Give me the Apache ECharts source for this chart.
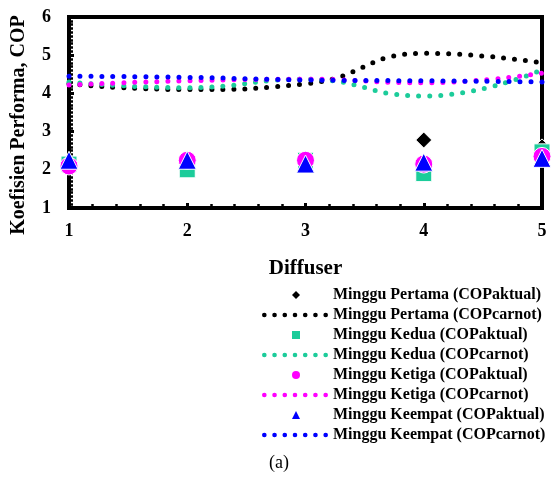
<!DOCTYPE html>
<html><head><meta charset="utf-8">
<script src="https://cdn.jsdelivr.net/npm/echarts@6/dist/echarts.min.js"></script>
<style>html,body{margin:0;padding:0;background:#fff}#c{width:551px;height:479px}</style>
</head><body><div id="c"></div>
<script>
var diffuser = [1, 2, 3, 4, 5];
var pertamaAktual = [2.2, 2.2, 2.2, 2.78, 2.6];
var pertamaCarnot = [4.25, 4.1, 4.25, 5.05, 4.8];
var keduaAktual = [2.15, 2.0, 2.25, 1.9, 2.47];
var keduaCarnot = [4.3, 4.15, 4.37, 3.93, 4.62];
var ketigaAktual = [2.1, 2.25, 2.25, 2.15, 2.35];
var ketigaCarnot = [4.22, 4.33, 4.37, 4.28, 4.53];
var keempatAktual = [2.25, 2.25, 2.15, 2.2, 2.3];
var keempatCarnot = [4.45, 4.42, 4.35, 4.33, 4.3];
var names = ['Minggu Pertama (COPaktual)', 'Minggu Pertama (COPcarnot)', 'Minggu Kedua (COPaktual)', 'Minggu Kedua (COPcarnot)', 'Minggu Ketiga (COPaktual)', 'Minggu Ketiga (COPcarnot)', 'Minggu Keempat (COPaktual)', 'Minggu Keempat (COPcarnot)'];
var xTicks = ['1', '2', '3', '4', '5'];
var yTicks = ['1', '2', '3', '4', '5', '6'];

function pairs(v) { return diffuser.map(function (x, i) { return [x, v[i]]; }); }
var FONT = '"Liberation Serif", "Times New Roman", serif';
var GREEN = '#1ccc9a', MAG = '#ff00ff', BLUE = '#0000ff';

function sc(name, data, symbol, size, color) {
  return { name: name, type: 'scatter', data: pairs(data), symbol: symbol, symbolSize: size, clip: false,
    itemStyle: { color: color, borderColor: '#fff', borderWidth: 1, opacity: 1 } };
}
function ln(name, data, color) {
  return { name: name, type: 'line', data: pairs(data), smooth: 0.5, symbol: 'none', clip: false,
    itemStyle: { color: color },
    lineStyle: { color: color, width: 5, type: [0, 11], cap: 'round' } };
}
// dotted legend sample: seven round dots
var dots = '';
for (var k = 0; k < 7; k++) {
  var cx = 2.5 + 11 * k;
  dots += 'M' + (cx - 2.5) + ',2.5 a2.5,2.5 0 1,0 5,0 a2.5,2.5 0 1,0 -5,0 ';
}
var DOT_ICON = 'path://' + dots;
var legendText = { fontFamily: FONT, fontWeight: 'bold', fontSize: 16, color: '#000', lineHeight: 20 };

var chart = echarts.init(document.getElementById('c'));
chart.setOption({
  animation: false,
  grid: { left: 69, right: 9, top: 17, bottom: 271, show: true, borderColor: '#000', borderWidth: 4 },
  xAxis: {
    type: 'value', min: 1, max: 5, interval: 1,
    name: 'Diffuser', nameLocation: 'middle', nameGap: 50,
    nameTextStyle: { fontFamily: FONT, fontWeight: 'bold', fontSize: 21, color: '#000' },
    axisLine: { lineStyle: { color: '#000', width: 4 } },
    axisTick: { inside: true, length: 5, lineStyle: { color: '#000', width: 3 } },
    minorTick: { show: true, splitNumber: 5, length: 4, lineStyle: { color: '#000', width: 2.5 } },
    splitLine: { show: false },
    axisLabel: { margin: 14, fontFamily: FONT, fontWeight: 'bold', fontSize: 18, color: '#000',
      formatter: function (v) { return xTicks[diffuser.indexOf(v)] || ''; } }
  },
  yAxis: {
    type: 'value', min: 1, max: 6, interval: 1,
    axisLine: { lineStyle: { color: '#000', width: 4 } },
    axisTick: { inside: true, length: 5, lineStyle: { color: '#000', width: 3 } },
    minorTick: { show: true, splitNumber: 10, length: 4, lineStyle: { color: '#000', width: 2.5 } },
    splitLine: { show: false },
    axisLabel: { margin: 18, fontFamily: FONT, fontWeight: 'bold', fontSize: 18, color: '#000',
      formatter: function (v) { return yTicks[v - 1] || ''; } }
  },
  legend: [
    {
      orient: 'vertical', left: 287, top: 280, itemWidth: 8, itemHeight: 8, itemGap: 20,
      selectedMode: false,
      itemStyle: { borderWidth: 0 },
      data: [
        { name: names[0], icon: 'diamond' },
        { name: names[2], icon: 'rect' },
        { name: names[4], icon: 'circle' },
        { name: names[6], icon: 'triangle' }
      ],
      textStyle: Object.assign({ padding: [0, 0, 0, 28] }, legendText)
    },
    {
      orient: 'vertical', left: 257, top: 300, itemWidth: 66, itemHeight: 5, itemGap: 20,
      selectedMode: false,
      itemStyle: { borderWidth: 0 },
      data: [
        { name: names[1], icon: DOT_ICON },
        { name: names[3], icon: DOT_ICON },
        { name: names[5], icon: DOT_ICON },
        { name: names[7], icon: DOT_ICON }
      ],
      textStyle: legendText
    }
  ],
  graphic: [
    { type: 'text', x: 19, y: 125, rotation: Math.PI / 2,
      style: { text: 'Koefisien Performa, COP', font: 'bold 20px ' + FONT, fill: '#000', align: 'center', verticalAlign: 'middle' } },
    { type: 'text', x: 279, y: 463,
      style: { text: '(a)', font: '18px ' + FONT, fill: '#000', align: 'center', verticalAlign: 'middle' } }
  ],
  series: [
    sc(names[0], pertamaAktual, 'diamond', 16, '#000'),
    ln(names[1], pertamaCarnot, '#000'),
    sc(names[2], keduaAktual, 'rect', 16, GREEN),
    ln(names[3], keduaCarnot, GREEN),
    sc(names[4], ketigaAktual, 'circle', 18, MAG),
    ln(names[5], ketigaCarnot, MAG),
    sc(names[6], keempatAktual, 'triangle', 18, BLUE),
    ln(names[7], keempatCarnot, BLUE)
  ]
});
</script></body></html>
